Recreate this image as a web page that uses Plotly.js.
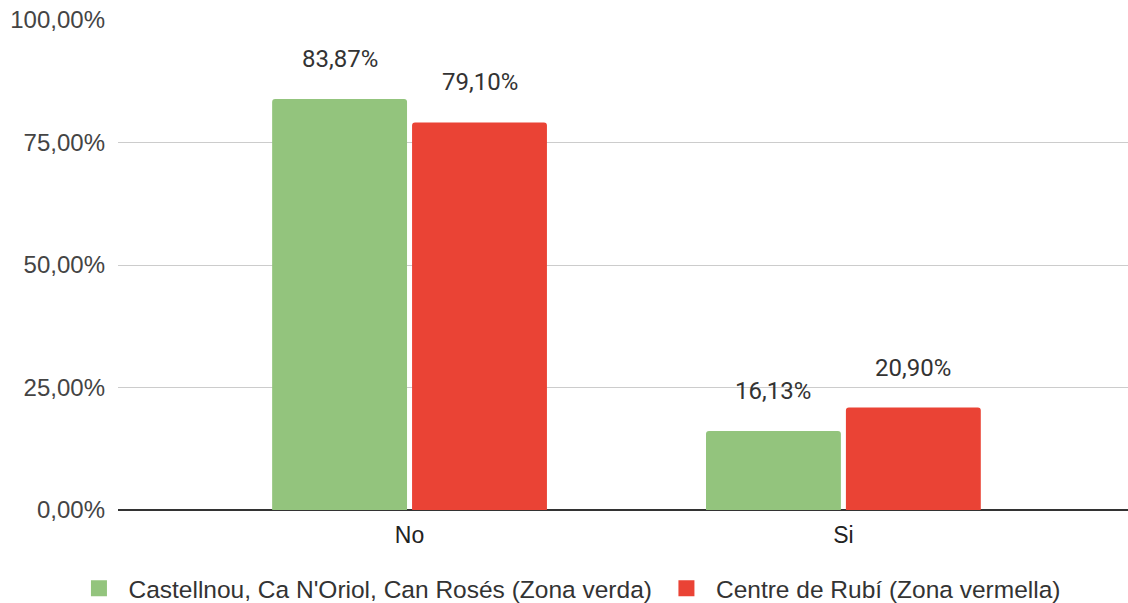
<!DOCTYPE html>
<html>
<head>
<meta charset="utf-8">
<script src="https://cdn.plot.ly/plotly-3.0.1.min.js"></script>
<style>html,body{margin:0;padding:0;background:#fff}#chart{width:1128px;height:603px}</style>
</head>
<body>
<div id="chart"></div>
<script>
const categories = ['No', 'Si'];
const seriesNames = ['Castellnou, Ca N\'Oriol, Can Rosés (Zona verda)', 'Centre de Rubí (Zona vermella)'];
const verdaValues = [83.87, 16.13];
const vermellaValues = [79.10, 20.90];
const yTickVals = [0, 25, 50, 75, 100];
const yTickText = ['0,00%', '25,00%', '50,00%', '75,00%', '100,00%'];
const colors = ['#93c47d', '#ea4335'];

const allValues = [verdaValues, vermellaValues];
const fmt = v => v.toFixed(2).replace('.', ',') + '%';
const AXFONT = '"Liberation Sans", Arial, sans-serif';
const LBLFONT = 'Roboto, sans-serif';

const traces = [];
allValues.forEach((vals, i) => {
  traces.push({
    type: 'bar', x: categories, y: vals, name: seriesNames[i],
    marker: {color: colors[i], cornerradius: 3},
    showlegend: false, hoverinfo: 'none'
  });
});
allValues.forEach((vals, i) => {
  traces.push({
    type: 'scatter', mode: 'markers', x: [null], y: [null], name: seriesNames[i],
    marker: {color: colors[i], symbol: 'square', size: 16}, showlegend: true
  });
});

const annotations = [];
allValues.forEach((vals, i) => {
  vals.forEach((v, j) => {
    annotations.push({
      x: categories[j], y: v, xref: 'x', yref: 'y', text: fmt(v), showarrow: false,
      xshift: i === 0 ? -70 : 70, yanchor: 'bottom', yshift: 24,
      font: {family: LBLFONT, size: 24, color: '#333'}
    });
  });
});

const layout = {
  width: 1128, height: 603,
  margin: {l: 118, r: 0, t: 20, b: 93, autoexpand: false},
  paper_bgcolor: '#fff', plot_bgcolor: '#fff',
  font: {family: AXFONT, size: 24, color: '#444'},
  barmode: 'group', bargap: 0.355, bargroupgap: 0.036,
  xaxis: {
    type: 'category', range: [-0.672, 1.656], showgrid: false, zeroline: false,
    showline: false, ticks: '', ticklabelstandoff: 9, automargin: false,
    tickfont: {family: AXFONT, size: 23, color: '#222'}, fixedrange: true
  },
  yaxis: {
    range: [0, 100], tickmode: 'array', tickvals: yTickVals, ticktext: yTickText,
    showgrid: true, gridcolor: '#cccccc', gridwidth: 1,
    zeroline: true, zerolinecolor: '#333333', zerolinewidth: 1.5,
    showline: false, ticks: '', ticklabelstandoff: 12, automargin: false,
    tickfont: {family: AXFONT, size: 24, color: '#444'}, fixedrange: true
  },
  showlegend: true,
  legend: {
    orientation: 'h', x: 0.445, xanchor: 'center', y: -0.16, yanchor: 'middle',
    font: {family: AXFONT, size: 24.5, color: '#333'}, itemwidth: 49, traceorder: 'normal'
  },
  annotations: annotations
};

Plotly.newPlot('chart', traces, layout, {displayModeBar: false, staticPlot: true});
</script>
</body>
</html>
